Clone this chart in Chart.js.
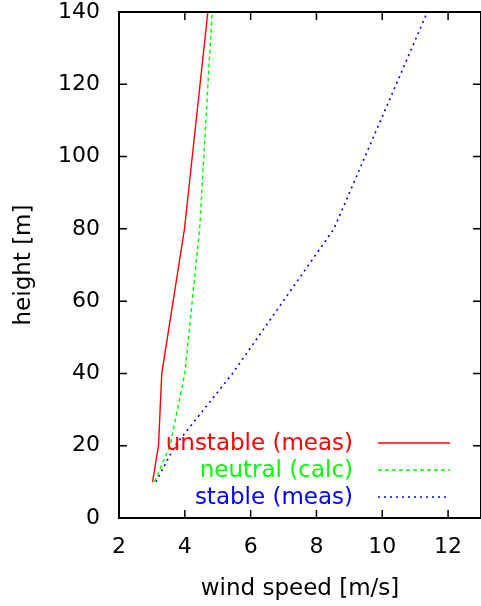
<!DOCTYPE html>
<html lang="en">
<head>
  <meta charset="UTF-8">
  <title>Wind speed profile</title>
  <script src="https://cdn.jsdelivr.net/npm/chart.js@4.4.0/dist/chart.umd.min.js"></script>
  <style>
    html, body { margin: 0; padding: 0; background: #ffffff; }
    #wrap { width: 481px; height: 606px; }
  </style>
</head>
<body>
  <div id="wrap"><canvas id="profileChart"></canvas></div>

  <script>
    // measurement heights [m]
    const heights = [10, 20, 40, 80, 140];

    // wind speed [m/s] at each height
    const unstableMeas = [3.02, 3.20, 3.30, 3.99, 4.70];
    const neutralCalc  = [3.08, 3.55, 4.00, 4.45, 4.83];
    const stableMeas   = [3.12, 3.70, 5.45, 8.53, 11.37];

    const seriesLabels = ["unstable (meas)", "neutral (calc)", "stable (meas)"];
    const xTicks = [2, 4, 6, 8, 10, 12];
    const yTicks = [0, 20, 40, 60, 80, 100, 120, 140];

    const FONT = "'DejaVu Sans', sans-serif";

    function toPoints(xs) {
      return xs.map((x, i) => ({ x: x, y: heights[i] }));
    }

    // gnuplot style frame with inward ticks on all four sides
    const framePlugin = {
      id: "frame",
      afterDatasetsDraw(chart) {
        const { ctx, chartArea: a, scales } = chart;
        ctx.save();
        ctx.strokeStyle = "#000";
        ctx.lineWidth = 1.5;
        ctx.beginPath();
        scales.x.ticks.forEach(t => {
          const px = scales.x.getPixelForValue(t.value);
          ctx.moveTo(px, a.bottom); ctx.lineTo(px, a.bottom - 8);
          ctx.moveTo(px, a.top); ctx.lineTo(px, a.top + 8);
        });
        scales.y.ticks.forEach(t => {
          const py = scales.y.getPixelForValue(t.value);
          ctx.moveTo(a.left, py); ctx.lineTo(a.left + 8, py);
          ctx.moveTo(a.right, py); ctx.lineTo(a.right - 8, py);
        });
        ctx.stroke();
        ctx.lineWidth = 2;
        ctx.strokeRect(a.left, a.top, a.right - a.left, a.bottom - a.top);
        ctx.restore();
      }
    };

    // key inside the plot, text right aligned with the line sample after it
    const keyPlugin = {
      id: "key",
      afterDatasetsDraw(chart) {
        const ctx = chart.ctx;
        const textRight = 353, lineFrom = 378, lineTo = 450;
        const rowY = [443, 470, 497];
        ctx.save();
        ctx.font = "23px " + FONT;
        ctx.textAlign = "right";
        ctx.textBaseline = "middle";
        chart.data.datasets.forEach((ds, i) => {
          ctx.fillStyle = ds.borderColor;
          ctx.fillText(ds.label, textRight, rowY[i] + 1);
          ctx.strokeStyle = ds.borderColor;
          ctx.lineWidth = ds.borderWidth;
          ctx.setLineDash(ds.borderDash || []);
          ctx.beginPath();
          ctx.moveTo(lineFrom, rowY[i]);
          ctx.lineTo(lineTo, rowY[i]);
          ctx.stroke();
        });
        ctx.restore();
      }
    };

    new Chart(document.getElementById("profileChart"), {
      type: "line",
      data: {
        datasets: [
          { label: seriesLabels[0], data: toPoints(unstableMeas), borderColor: "#ff0000", borderWidth: 1.4, borderDash: [] },
          { label: seriesLabels[1], data: toPoints(neutralCalc), borderColor: "#00ff00", borderWidth: 1.4, borderDash: [4, 3] },
          { label: seriesLabels[2], data: toPoints(stableMeas), borderColor: "#0000ff", borderWidth: 1.6, borderDash: [2, 4] }
        ]
      },
      options: {
        responsive: true,
        maintainAspectRatio: false,
        animation: false,
        layout: { padding: { top: 12, right: -2, left: 0, bottom: 0 } },
        elements: { point: { radius: 0 }, line: { tension: 0 } },
        plugins: {
          legend: { display: false },
          tooltip: { enabled: false }
        },
        scales: {
          x: {
            type: "linear",
            min: 2,
            max: 13,
            grid: { display: false, drawTicks: false },
            border: { display: false },
            afterBuildTicks: s => { s.ticks = xTicks.map(v => ({ value: v })); },
            afterFit: s => { s.height = 88; s.paddingLeft = 0; s.paddingRight = 0; },
            ticks: {
              color: "#000",
              padding: 16,
              font: { family: FONT, size: 22 },
              maxRotation: 0
            },
            title: {
              display: true,
              text: "wind speed [m/s]",
              color: "#000",
              font: { family: FONT, size: 23 },
              padding: { top: 0, bottom: 3 }
            }
          },
          y: {
            type: "linear",
            min: 0,
            max: 140,
            grid: { display: false, drawTicks: false },
            border: { display: false },
            afterBuildTicks: s => { s.ticks = yTicks.map(v => ({ value: v })); },
            afterFit: s => { s.width = 119; s.paddingTop = 0; s.paddingBottom = 0; },
            ticks: {
              color: "#000",
              padding: 19,
              font: { family: FONT, size: 22 }
            },
            title: {
              display: true,
              text: "height [m]",
              color: "#000",
              font: { family: FONT, size: 23 },
              padding: { top: 10, bottom: 0 }
            }
          }
        }
      },
      plugins: [framePlugin, keyPlugin]
    });
  </script>
</body>
</html>
